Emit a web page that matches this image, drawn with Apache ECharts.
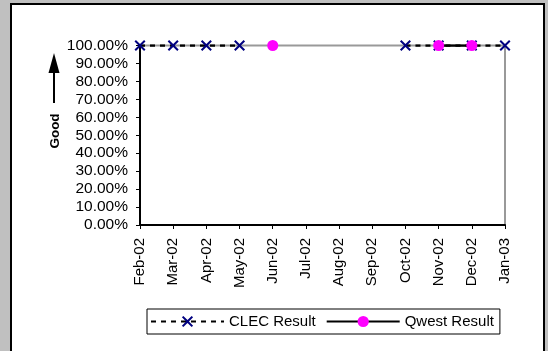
<!DOCTYPE html>
<html>
<head>
<meta charset="utf-8">
<script src="https://cdn.jsdelivr.net/npm/echarts/dist/echarts.min.js"></script>
<style>
html,body{margin:0;padding:0;background:#c0c0c0;}
#c{width:548px;height:351px;}
</style>
</head>
<body>
<div id="c"></div>
<script>
const categories = ['Feb-02','Mar-02','Apr-02','May-02','Jun-02','Jul-02','Aug-02','Sep-02','Oct-02','Nov-02','Dec-02','Jan-03'];
const clecResult = [1, 1, 1, 1, null, null, null, null, 1, 1, 1, 1];
const qwestResult = [null, null, null, null, 1, null, null, null, null, 1, 1, null];
const yTicks = [0, 0.1, 0.2, 0.3, 0.4, 0.5, 0.6, 0.7, 0.8, 0.9, 1];

const FONT = "'Liberation Sans', Arial, sans-serif";
const X_PATH = 'path://M0,1.3 L1.3,0 L5,3.7 L8.7,0 L10,1.3 L6.3,5 L10,8.7 L8.7,10 L5,6.3 L1.3,10 L0,8.7 L3.7,5 Z';

const chart = echarts.init(document.getElementById('c'), null, {renderer: 'canvas'});
chart.setOption({
  backgroundColor: '#c0c0c0',
  animation: false,
  textStyle: {fontFamily: FONT},
  graphic: [
    {type: 'rect', z: -10, shape: {x: 11, y: 4, width: 533, height: 360},
     style: {fill: '#ffffff', stroke: '#000000', lineWidth: 2}},
    {type: 'line', shape: {x1: 54, y1: 70, x2: 54, y2: 103}, style: {stroke: '#000', lineWidth: 2}},
    {type: 'polygon', shape: {points: [[48.5, 73], [54, 53], [59.5, 73]]}, style: {fill: '#000'}},
    {type: 'text', x: 55, y: 131, rotation: Math.PI / 2,
     style: {text: 'Good', font: 'bold 13.5px ' + FONT, fill: '#000', align: 'center', verticalAlign: 'middle'}}
  ],
  grid: {left: 140, right: 43, top: 45.5, bottom: 126, show: true, borderColor: '#999999', borderWidth: 2, backgroundColor: 'transparent'},
  legend: {
    left: 147, top: 309,
    itemWidth: 73, itemHeight: 14, itemGap: 10,
    padding: [5, 6, 5, 3],
    borderColor: '#000', borderWidth: 1, backgroundColor: '#fff',
    textStyle: {fontSize: 15, color: '#000', fontFamily: FONT},
    data: ['CLEC Result', 'Qwest Result']
  },
  xAxis: {
    type: 'category', data: categories, boundaryGap: false,
    axisLine: {lineStyle: {color: '#000', width: 2}},
    axisTick: {show: true, inside: false, length: 4, alignWithLabel: true, lineStyle: {color: '#000', width: 1}},
    axisLabel: {rotate: 90, margin: 13, fontSize: 15, color: '#000', fontFamily: FONT, interval: 0},
    splitLine: {show: false}
  },
  yAxis: {
    type: 'value', min: yTicks[0], max: yTicks[yTicks.length - 1], interval: yTicks[1] - yTicks[0],
    axisLine: {show: true, lineStyle: {color: '#000', width: 2}},
    axisTick: {show: true, inside: false, length: 4, lineStyle: {color: '#000', width: 1}},
    axisLabel: {margin: 12, fontSize: 15.5, color: '#000', fontFamily: FONT,
      formatter: v => (v * 100).toFixed(2) + '%'},
    splitLine: {show: false}
  },
  series: [
    {name: 'CLEC Result', type: 'line', data: clecResult, connectNulls: false,
     symbol: X_PATH, symbolSize: 11,
     itemStyle: {color: '#000080'},
     lineStyle: {color: '#000', width: 2.5, type: [5, 5]}, z: 2},
    {name: 'Qwest Result', type: 'line', data: qwestResult, connectNulls: false,
     symbol: 'circle', symbolSize: 11,
     itemStyle: {color: '#ff00ff'},
     lineStyle: {color: '#000', width: 2.5, type: 'solid'}, z: 3}
  ]
});
</script>
</body>
</html>
